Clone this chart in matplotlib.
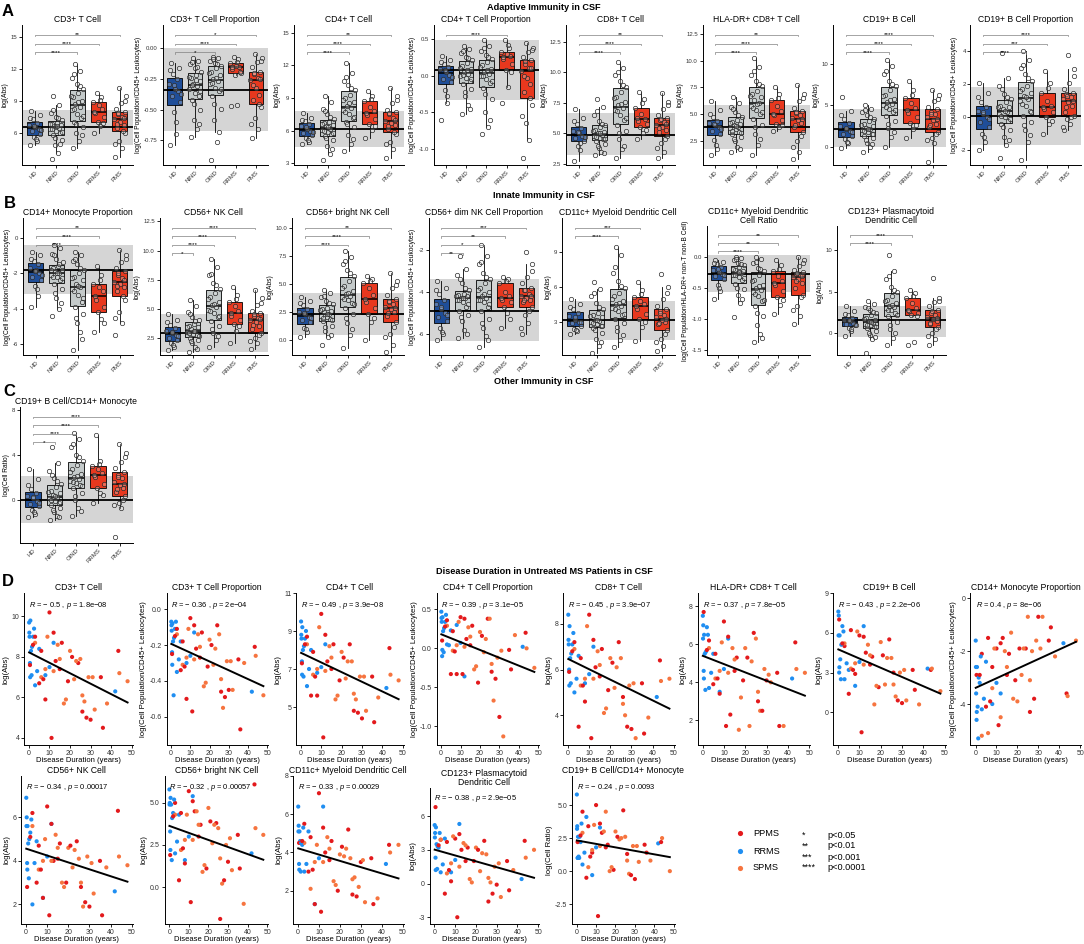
import numpy as np
import matplotlib
matplotlib.use("Agg")
import matplotlib.pyplot as plt
from matplotlib.transforms import blended_transform_factory

plt.rcParams['font.family'] = ['Liberation Sans', 'DejaVu Sans']
plt.rcParams['mathtext.fontset'] = 'custom'
plt.rcParams['mathtext.rm'] = 'Liberation Sans'
plt.rcParams['mathtext.it'] = 'Liberation Sans:italic'

# ---------------- box plot panels (A, B, C) ----------------
groups = ['HD', 'NIND', 'OIND', 'RRMS', 'PMS']
box_colors = ['#1f4e99', '#c4caca', '#c4caca', '#e8381e', '#e8381e']

cd3_abs = [[4.9, 5.3, 5.7, 5.9, 6.2, 6.4, 6.6, 6.8, 7.0, 7.3, 7.7, 8.1, 5.5, 6.3, 6.7, 7.4],
           [3.6, 4.2, 4.9, 5.4, 5.8, 6.0, 6.2, 6.4, 6.5, 6.7, 6.8, 6.9, 7.0, 7.2, 7.5, 7.9, 8.6, 9.5,
            5.0, 5.6, 6.1, 6.4, 6.7, 6.9, 7.4, 8.2],
           [4.6, 5.3, 6.0, 6.6, 7.1, 7.4, 7.8, 8.2, 8.5, 8.7, 9.0, 9.4, 9.8, 10.1, 10.6, 11.2, 11.8, 12.5,
            5.8, 6.9, 7.6, 8.3, 8.9, 9.5, 10.4, 11.5],
           [6.0, 6.7, 7.1, 7.5, 7.9, 8.3, 8.6, 8.9, 9.4, 9.8, 7.0, 8.0, 9.1],
           [3.8, 4.6, 5.3, 6.0, 6.5, 6.8, 7.1, 7.3, 7.5, 7.8, 8.0, 8.3, 8.8, 9.5, 10.2, 5.0, 6.2, 6.9, 7.4, 7.9, 9.0]]
cd3_prop = [[-0.79, -0.70, -0.52, -0.44, -0.39, -0.35, -0.33, -0.29, -0.25, -0.21, -0.16, -0.12, -0.60, -0.37, -0.30, -0.18],
            [-0.72, -0.66, -0.58, -0.50, -0.42, -0.39, -0.36, -0.33, -0.31, -0.29, -0.27, -0.24, -0.22, -0.19, -0.16, -0.13, -0.10, -0.08,
             -0.62, -0.45, -0.35, -0.30, -0.26, -0.23, -0.15, -0.11],
            [-0.91, -0.76, -0.58, -0.49, -0.39, -0.35, -0.32, -0.29, -0.27, -0.25, -0.22, -0.19, -0.16, -0.14, -0.12, -0.10, -0.08, -0.07,
             -0.68, -0.45, -0.33, -0.28, -0.24, -0.20, -0.13, -0.09],
            [-0.47, -0.46, -0.22, -0.20, -0.17, -0.15, -0.14, -0.12, -0.09, -0.07, -0.19, -0.15, -0.11],
            [-0.73, -0.66, -0.57, -0.48, -0.42, -0.38, -0.32, -0.26, -0.24, -0.21, -0.19, -0.15, -0.11, -0.08, -0.05,
             -0.62, -0.45, -0.30, -0.25, -0.20, -0.10]]
cd4_abs = [[4.8, 5.0, 5.3, 5.6, 5.8, 6.0, 6.2, 6.4, 6.6, 6.9, 7.2, 7.6, 5.1, 5.9, 6.3, 7.0],
           [3.3, 3.9, 4.6, 5.1, 5.5, 5.7, 5.9, 6.1, 6.2, 6.4, 6.5, 6.7, 6.8, 7.1, 7.5, 8.0, 8.6, 9.2,
            4.3, 5.3, 5.8, 6.0, 6.3, 6.6, 7.3, 7.8],
           [4.1, 4.8, 5.6, 6.3, 6.8, 7.2, 7.5, 7.9, 8.1, 8.3, 8.6, 9.0, 9.3, 9.7, 10.2, 10.6, 11.3, 12.2,
            5.2, 6.6, 7.3, 7.7, 8.5, 8.8, 9.9, 10.9],
           [5.3, 6.1, 6.6, 7.1, 7.4, 7.8, 8.2, 8.7, 9.2, 9.6, 6.4, 7.6, 8.9],
           [3.5, 4.3, 5.0, 5.7, 6.2, 6.5, 6.7, 6.9, 7.2, 7.5, 7.7, 7.9, 8.5, 9.2, 9.9, 4.8, 5.9, 6.4, 7.0, 7.6, 8.8]]
cd4_prop = [[-0.61, -0.38, -0.20, -0.09, -0.04, 0.01, 0.05, 0.09, 0.12, 0.16, 0.21, 0.27, -0.28, -0.02, 0.07, 0.19],
            [-0.52, -0.40, -0.28, -0.18, -0.11, -0.07, -0.03, 0.0, 0.02, 0.05, 0.09, 0.13, 0.17, 0.21, 0.26, 0.31, 0.36, 0.40,
             -0.45, -0.22, -0.05, 0.01, 0.07, 0.11, 0.24, 0.33],
            [-0.80, -0.70, -0.50, -0.32, -0.17, -0.10, -0.05, 0.0, 0.02, 0.05, 0.09, 0.14, 0.18, 0.23, 0.28, 0.34, 0.41, 0.48,
             -0.60, -0.25, -0.08, 0.0, 0.07, 0.12, 0.26, 0.38],
            [-0.37, -0.15, 0.08, 0.16, 0.22, 0.27, 0.29, 0.32, 0.38, 0.48, 0.05, 0.25, 0.42],
            [-1.13, -0.88, -0.65, -0.40, -0.23, -0.12, -0.03, 0.06, 0.11, 0.16, 0.21, 0.26, 0.32, 0.38, 0.44,
             -0.55, -0.30, 0.0, 0.10, 0.20, 0.35]]
cd8_abs = [[2.7, 3.6, 4.0, 4.4, 4.6, 4.8, 5.0, 5.2, 5.4, 5.8, 6.3, 7.0, 4.2, 4.7, 5.1, 6.0],
           [3.2, 3.5, 3.8, 4.1, 4.4, 4.5, 4.6, 4.8, 4.9, 5.0, 5.1, 5.3, 5.5, 5.7, 6.0, 6.5, 7.2, 7.8,
            3.4, 4.0, 4.5, 4.7, 5.0, 5.2, 5.8, 6.8],
           [3.0, 3.7, 4.5, 5.2, 5.7, 6.1, 6.5, 6.9, 7.1, 7.3, 7.6, 8.0, 8.4, 8.8, 9.3, 9.8, 10.4, 10.9,
            4.0, 5.0, 6.3, 6.8, 7.4, 7.9, 9.0, 10.0],
           [4.5, 5.0, 5.5, 5.8, 6.0, 6.2, 6.6, 7.1, 7.8, 8.4, 5.3, 6.3, 7.5],
           [3.0, 3.5, 4.2, 4.8, 5.1, 5.3, 5.5, 5.7, 5.9, 6.1, 6.3, 6.5, 7.0, 7.6, 8.3, 3.8, 4.5, 5.4, 5.8, 6.2, 7.3]]
hladr_cd8_abs = [[1.2, 1.8, 2.6, 3.2, 3.5, 3.8, 4.0, 4.2, 4.4, 4.8, 5.4, 6.2, 2.2, 3.6, 4.1, 5.0],
                 [1.5, 2.0, 2.5, 2.9, 3.2, 3.4, 3.6, 3.7, 3.8, 4.0, 4.1, 4.3, 4.5, 4.8, 5.2, 5.7, 6.1, 6.6,
                  1.8, 2.7, 3.3, 3.5, 3.9, 4.2, 4.9, 5.5],
                 [1.2, 2.2, 3.2, 4.0, 4.6, 5.0, 5.4, 5.8, 6.1, 6.3, 6.6, 6.9, 7.2, 7.6, 8.1, 8.7, 9.4, 10.2,
                  2.7, 3.8, 5.2, 5.6, 6.0, 6.7, 7.8, 9.0],
                 [3.5, 3.8, 4.1, 4.5, 4.9, 5.3, 5.8, 6.3, 6.9, 7.5, 4.0, 5.0, 6.5],
                 [0.9, 1.5, 2.5, 3.4, 3.8, 4.2, 4.5, 4.7, 4.9, 5.1, 5.3, 5.6, 6.2, 6.9, 7.7, 2.0, 3.0, 4.0, 4.6, 5.2, 6.5]]
cd19_abs = [[-0.1, 0.4, 0.9, 1.3, 1.6, 1.9, 2.1, 2.5, 2.9, 3.4, 4.3, 6.0, 0.6, 1.8, 2.3, 3.8],
            [-0.6, 0.0, 0.5, 1.0, 1.3, 1.6, 1.8, 2.0, 2.1, 2.3, 2.5, 2.8, 3.1, 3.4, 3.8, 4.2, 4.6, 5.0,
             0.3, 0.8, 1.5, 1.9, 2.2, 2.6, 3.6, 4.4],
            [0.0, 1.2, 2.3, 3.1, 3.7, 4.2, 4.6, 5.0, 5.2, 5.4, 5.8, 6.3, 6.8, 7.3, 8.0, 8.8, 9.7, 10.5,
             1.8, 2.8, 4.4, 4.8, 5.6, 6.1, 7.6, 9.2],
            [1.0, 2.2, 2.9, 3.6, 4.1, 4.7, 5.3, 5.9, 6.8, 7.9, 2.6, 4.4, 6.3],
            [-1.8, 0.5, 1.1, 1.8, 2.4, 2.8, 3.2, 3.6, 3.9, 4.2, 4.5, 4.8, 5.5, 6.2, 6.9, 0.8, 1.5, 2.6, 3.4, 4.0, 5.8]]
cd19_prop = [[-2.0, -1.5, -1.0, -0.6, -0.3, 0.0, 0.2, 0.4, 0.6, 0.9, 1.5, 2.1, -1.2, -0.1, 0.3, 1.2],
             [-2.5, -1.7, -1.2, -0.8, -0.4, -0.2, 0.0, 0.2, 0.3, 0.5, 0.6, 0.7, 0.9, 1.1, 1.4, 1.9, 2.4, 3.9,
              -1.4, -0.6, -0.1, 0.1, 0.4, 0.6, 1.2, 1.7],
             [-2.6, -1.5, -0.8, -0.3, 0.1, 0.4, 0.7, 1.0, 1.1, 1.3, 1.5, 1.7, 1.9, 2.2, 2.6, 3.0, 3.5, 4.0,
              -1.1, -0.5, 0.3, 0.8, 1.2, 1.6, 2.4, 3.2],
             [-1.0, -0.4, 0.0, 0.3, 0.5, 0.7, 1.0, 1.5, 2.1, 2.8, -0.2, 0.6, 1.8],
             [-0.8, -0.4, -0.1, 0.1, 0.3, 0.7, 0.9, 1.1, 1.2, 1.4, 1.5, 1.7, 2.1, 2.9, 3.8, -0.6, 0.0, 0.6, 1.0, 1.3, 2.5]]
cd14_prop = [[-3.9, -3.3, -2.7, -2.4, -2.2, -2.0, -1.8, -1.7, -1.5, -1.3, -1.0, -0.8, -2.9, -2.1, -1.9, -1.2],
             [-4.4, -4.0, -3.4, -2.9, -2.6, -2.4, -2.2, -2.1, -2.0, -1.9, -1.8, -1.7, -1.6, -1.4, -1.2, -0.9, -0.6, -0.4,
              -3.7, -3.1, -2.3, -2.2, -2.0, -1.8, -1.5, -1.0],
             [-6.3, -5.3, -4.8, -4.3, -3.9, -3.6, -3.2, -2.9, -2.8, -2.6, -2.4, -2.2, -2.0, -1.8, -1.5, -1.3, -1.0, -0.8,
              -5.7, -4.5, -3.4, -3.0, -2.7, -2.3, -1.7, -1.2],
             [-5.3, -4.6, -4.2, -3.9, -3.5, -3.0, -2.8, -2.6, -2.1, -1.6, -4.8, -3.3, -2.4],
             [-5.5, -4.8, -4.2, -3.5, -3.0, -2.8, -2.6, -2.5, -2.3, -2.1, -1.9, -1.7, -1.4, -1.0, -0.7,
              -4.5, -3.3, -2.7, -2.4, -2.0, -1.2]]
cd56_abs = [[1.4, 1.7, 2.0, 2.3, 2.5, 2.7, 2.9, 3.1, 3.3, 3.6, 4.0, 4.5, 1.9, 2.6, 3.0, 3.8],
            [1.3, 1.7, 2.0, 2.3, 2.5, 2.7, 2.8, 3.0, 3.1, 3.2, 3.4, 3.5, 3.7, 4.0, 4.3, 4.7, 5.2, 5.7,
             1.5, 2.2, 2.6, 2.9, 3.1, 3.4, 3.9, 4.5],
            [1.7, 2.3, 2.9, 3.5, 3.9, 4.3, 4.6, 4.9, 5.1, 5.3, 5.6, 6.0, 6.3, 6.7, 7.2, 7.9, 8.6, 9.3,
             2.6, 3.2, 4.4, 4.8, 5.4, 5.8, 7.0, 8.0],
            [2.0, 3.1, 3.7, 4.0, 4.4, 4.8, 5.2, 5.6, 6.2, 6.9, 3.5, 4.6, 5.8],
            [1.5, 2.0, 2.5, 2.9, 3.2, 3.5, 3.8, 4.0, 4.2, 4.4, 4.6, 4.8, 5.3, 5.9, 6.6, 2.2, 2.7, 3.6, 4.1, 4.5, 5.5]]
cd56_bright_abs = [[0.3, 0.7, 1.1, 1.6, 1.8, 2.1, 2.3, 2.5, 2.8, 3.1, 3.5, 3.8, 1.0, 2.0, 2.4, 3.3],
                   [-0.4, 0.3, 0.8, 1.3, 1.7, 1.9, 2.1, 2.2, 2.3, 2.5, 2.6, 2.8, 2.9, 3.2, 3.5, 3.8, 4.2, 4.5,
                    0.5, 1.2, 1.8, 2.0, 2.3, 2.7, 3.3, 3.9],
                   [-0.7, 0.5, 1.5, 2.3, 2.9, 3.3, 3.6, 3.8, 3.9, 4.1, 4.4, 4.8, 5.3, 5.7, 6.2, 6.8, 7.4, 7.9,
                    1.0, 2.0, 3.2, 3.7, 4.2, 4.6, 6.0, 7.0],
                   [0.0, 1.6, 2.3, 2.9, 3.4, 4.0, 4.6, 5.1, 5.4, 5.7, 2.0, 3.7, 5.3],
                   [-1.0, -0.4, 0.6, 1.6, 2.2, 2.5, 2.8, 3.0, 3.2, 3.4, 3.7, 4.0, 4.6, 5.3, 6.0, 0.3, 1.2, 2.4, 2.9, 3.5, 4.9]]
cd56_dim_prop = [[-6.3, -6.0, -5.7, -5.4, -5.2, -5.0, -4.8, -4.6, -4.4, -4.1, -3.8, -3.5, -5.9, -5.1, -4.7, -3.9],
                 [-6.2, -5.8, -5.4, -5.1, -4.9, -4.7, -4.5, -4.4, -4.3, -4.3, -4.2, -4.15, -4.1, -3.9, -3.6, -3.2, -2.9, -2.3,
                  -6.0, -5.2, -4.6, -4.4, -4.3, -4.2, -3.8, -3.4],
                 [-6.6, -6.1, -5.7, -5.3, -4.9, -4.7, -4.5, -4.4, -4.3, -4.2, -4.0, -3.8, -3.6, -3.4, -3.1, -2.7, -2.3, -1.8,
                  -6.3, -5.5, -4.6, -4.4, -4.1, -3.9, -3.3, -2.6],
                 [-5.7, -5.0, -4.7, -4.5, -4.4, -4.2, -4.0, -3.6, -3.4, -3.3, -5.3, -4.3, -3.5],
                 [-6.0, -5.5, -5.1, -4.7, -4.5, -4.4, -4.3, -4.2, -4.1, -3.9, -3.8, -3.6, -3.3, -2.7, -2.1,
                  -5.7, -4.9, -4.4, -4.2, -3.9, -3.0]]
cd11c_abs = [[2.0, 2.2, 2.4, 2.7, 2.9, 3.0, 3.2, 3.5, 3.8, 4.1, 4.5, 5.0, 2.3, 3.0, 3.4, 4.3],
             [0.4, 1.0, 1.6, 2.1, 2.5, 2.7, 2.8, 3.0, 3.1, 3.2, 3.4, 3.6, 3.8, 4.1, 4.6, 5.2, 5.8, 6.4,
              1.3, 2.3, 2.7, 2.9, 3.2, 3.5, 4.3, 5.5],
             [0.9, 1.5, 2.2, 2.9, 3.3, 3.6, 3.9, 4.2, 4.4, 4.5, 4.8, 5.2, 5.5, 5.9, 6.5, 7.2, 8.7, 9.4,
              1.9, 2.6, 3.7, 4.1, 4.6, 5.0, 6.1, 7.7],
             [1.4, 2.6, 3.3, 3.7, 4.1, 4.5, 4.8, 5.1, 5.7, 6.4, 3.0, 4.4, 5.4],
             [0.5, 1.0, 1.6, 2.3, 2.8, 3.0, 3.2, 3.4, 3.6, 3.9, 4.1, 4.4, 5.0, 6.0, 7.1, 1.3, 2.0, 2.9, 3.3, 3.8, 5.5]]
cd11c_ratio = [[-0.68, -0.55, -0.45, -0.36, -0.32, -0.28, -0.25, -0.21, -0.16, -0.12, -0.08, -0.05, -0.50, -0.30, -0.20, -0.10],
               [-0.97, -0.75, -0.62, -0.52, -0.44, -0.38, -0.33, -0.29, -0.27, -0.26, -0.24, -0.21, -0.17, -0.14, -0.10, -0.06, -0.02, 0.0,
                -0.68, -0.50, -0.35, -0.30, -0.25, -0.20, -0.12, -0.04],
               [-1.37, -1.25, -1.10, -0.95, -0.80, -0.72, -0.64, -0.57, -0.53, -0.50, -0.45, -0.38, -0.30, -0.24, -0.18, -0.10, -0.04, 0.0,
                -1.30, -0.90, -0.70, -0.60, -0.48, -0.40, -0.20, -0.08],
               [-0.92, -0.78, -0.65, -0.55, -0.46, -0.40, -0.31, -0.24, -0.14, -0.05, -0.70, -0.43, -0.20],
               [-1.08, -0.95, -0.80, -0.62, -0.50, -0.42, -0.36, -0.33, -0.30, -0.28, -0.25, -0.22, -0.15, -0.06, 0.0,
                -0.85, -0.65, -0.40, -0.32, -0.26, -0.10]]
cd123_abs = [[-0.4, 0.2, 0.6, 0.9, 1.1, 1.2, 1.4, 1.6, 1.8, 2.1, 2.6, 3.3, 0.4, 1.0, 1.5, 2.3],
             [-2.4, -0.8, -0.3, 0.2, 0.6, 0.8, 1.0, 1.1, 1.2, 1.4, 1.6, 1.8, 2.1, 2.4, 2.7, 3.1, 3.5, 3.8,
              -0.5, 0.0, 0.7, 1.0, 1.3, 1.7, 2.5, 3.0],
             [-1.5, -0.6, 0.5, 1.3, 2.0, 2.4, 2.7, 3.0, 3.1, 3.3, 3.6, 4.0, 4.4, 4.9, 5.6, 6.5, 7.5, 9.4,
              0.0, 1.0, 2.2, 2.8, 3.4, 3.8, 5.2, 6.9],
             [-1.5, -1.1, 2.2, 2.4, 2.6, 3.0, 3.6, 4.2, 4.8, 5.2, 2.0, 2.8, 4.5],
             [-1.5, -0.8, 0.0, 0.7, 1.1, 1.4, 1.7, 1.9, 2.1, 2.4, 2.8, 3.2, 3.7, 4.2, 6.7, -0.4, 0.4, 1.2, 1.8, 2.6, 3.9]]
cd19_cd14_ratio = [[-1.6, -1.3, -0.9, -0.6, -0.4, -0.1, 0.1, 0.3, 0.6, 0.9, 1.8, 2.7, -1.1, -0.3, 0.2, 1.3],
                   [-1.8, -1.5, -1.1, -0.8, -0.5, -0.3, -0.1, 0.1, 0.2, 0.4, 0.6, 0.8, 1.1, 1.4, 1.9, 2.6, 3.3, 4.7,
                    -1.6, -0.9, -0.2, 0.0, 0.3, 0.7, 1.7, 2.2],
                   [-1.5, -0.8, 0.0, 0.6, 1.0, 1.3, 1.5, 1.7, 1.8, 2.0, 2.3, 2.7, 3.1, 3.5, 4.0, 4.7, 5.4, 6.0,
                    -1.0, 0.3, 1.2, 1.6, 2.1, 2.5, 3.8, 5.0],
                   [-0.3, 0.6, 1.0, 1.4, 2.0, 2.4, 2.7, 3.0, 3.5, 5.8, 0.4, 2.2, 3.2],
                   [-3.4, -0.8, -0.3, 0.3, 0.7, 1.0, 1.3, 1.6, 1.9, 2.2, 2.5, 2.8, 3.4, 4.2, 5.0, -0.5, 0.0, 0.9, 1.4, 2.0, 3.8]]

box_values = [cd3_abs, cd3_prop, cd4_abs, cd4_prop, cd8_abs, hladr_cd8_abs, cd19_abs, cd19_prop,
              cd14_prop, cd56_abs, cd56_bright_abs, cd56_dim_prop, cd11c_abs, cd11c_ratio, cd123_abs,
              cd19_cd14_ratio]
box_titles = ["CD3+ T Cell", "CD3+ T Cell Proportion", "CD4+ T Cell", "CD4+ T Cell Proportion",
              "CD8+ T Cell", "HLA-DR+ CD8+ T Cell", "CD19+ B Cell", "CD19+ B Cell Proportion",
              "CD14+ Monocyte Proportion", "CD56+ NK Cell", "CD56+ bright NK Cell",
              "CD56+ dim NK Cell Proportion", "CD11c+ Myeloid Dendritic Cell",
              "CD11c+ Myeloid Dendritic\nCell Ratio", "CD123+ Plasmacytoid\nDendritic Cell",
              "CD19+ B Cell/CD14+ Monocyte"]
prop = "log(Cell Population/CD45+ Leukocytes)"
box_ylabels = ["log(Abs)", prop, "log(Abs)", prop, "log(Abs)", "log(Abs)", "log(Abs)", prop,
               prop, "log(Abs)", "log(Abs)", prop, "log(Abs)",
               "log(Cell Population/HLA-DR+ non-T non-B Cell)", "log(Abs)", "log(Cell Ratio)"]
# HD reference line and band
box_ref = [6.6, -0.34, 6.2, 0.08, 4.9, 3.85, 2.2, 0.05, -1.85, 2.9, 2.3, -4.9, 3.15, -0.28, 1.5, 0.0]
box_band = [(4.9, 8.2), (-0.675, 0.0), (4.5, 7.85), (-0.33, 0.49), (3.2, 6.7), (1.8, 5.9),
            (-0.05, 4.6), (-1.7, 1.85), (-3.15, -0.4), (1.3, 4.55), (0.5, 4.2), (-6.35, -3.4),
            (1.5, 4.75), (-0.57, 0.03), (-0.5, 3.2), (-2.1, 2.15)]
box_sig = [[('OIND', '****'), ('RRMS', '****'), ('PMS', '**')],
           [('OIND', '*'), ('RRMS', '****'), ('PMS', '*')],
           [('OIND', '****'), ('RRMS', '****'), ('PMS', '**')],
           [('RRMS', '****')],
           [('OIND', '****'), ('RRMS', '****'), ('PMS', '**')],
           [('OIND', '****'), ('RRMS', '****'), ('PMS', '**')],
           [('OIND', '****'), ('RRMS', '****'), ('PMS', '****')],
           [('OIND', '****'), ('RRMS', '***'), ('PMS', '****')],
           [('OIND', '****'), ('RRMS', '****'), ('PMS', '**')],
           [('NIND', '*'), ('OIND', '****'), ('RRMS', '****'), ('PMS', '****')],
           [('OIND', '****'), ('RRMS', '****'), ('PMS', '**')],
           [('NIND', '**'), ('OIND', '*'), ('RRMS', '**'), ('PMS', '***')],
           [('OIND', '****'), ('RRMS', '***')],
           [('OIND', '****'), ('RRMS', '**'), ('PMS', '**')],
           [('OIND', '****'), ('RRMS', '****')],
           [('NIND', '*'), ('OIND', '****'), ('RRMS', '****'), ('PMS', '****')]]
box_ylim = [(3.05, 16.1), (-0.95, 0.19), (2.85, 15.7), (-1.22, 0.69), (2.4, 13.9), (0.3, 13.3),
            (-2.2, 14.7), (-2.9, 5.6), (-6.6, 1.1), (1.0, 12.8), (-1.3, 10.85), (-7.0, -0.5),
            (0.2, 11.85), (-1.58, 0.49), (-2.7, 12.95), (-3.9, 8.3)]
box_yticks = [["6", "9", "12", "15"], ["-0.75", "-0.50", "-0.25", "0.00"], ["3", "6", "9", "12", "15"],
              ["-1.0", "-0.5", "0.0", "0.5"], ["2.5", "5.0", "7.5", "10.0", "12.5"],
              ["2.5", "5.0", "7.5", "10.0", "12.5"], ["0", "5", "10"], ["-2", "0", "2", "4"],
              ["-6", "-4", "-2", "0"], ["2.5", "5.0", "7.5", "10.0", "12.5"],
              ["0.0", "2.5", "5.0", "7.5", "10.0"], ["-6", "-4", "-2"], ["3", "6", "9"],
              ["-1.5", "-1.0", "-0.5", "0.0"], ["0", "5", "10"], ["0", "4", "8"]]
box_lpad = [22, 27, 23, 27, 24, 25, 20, 22, 23, 24, 21, 22, 20, 29, 24, 20]

# ---------------- scatter panels (D) ----------------
duration = [0.1, 0.3, 0.5, 0.7, 1.0, 1.3, 2.0, 3.0, 5.0, 8.0, 12.0, 42.0,
            0.5, 3, 5, 6, 8, 10, 11, 13, 16, 19, 24, 26, 30, 36, 43.5,
            3, 6, 9, 12, 15, 17, 20, 22, 25, 27, 29, 32, 38, 48,
            0.2, 0.6, 1.5, 2.5, 4, 10,
            2, 7, 12, 15, 21, 28, 35,
            8, 14, 18, 23, 26, 31, 44]
ms_type = "RRRRRRRRRRRRPPPPPPPPPPPPPPPSSSSSSSSSSSSSSRRRRRRPPPPPPPSSSSSSS"
type_colors = {'P': '#e3191c', 'R': '#1f8ef1', 'S': '#f6743f'}

d_cd3_abs = [9.7, 9.0, 7.7, 9.8, 8.3, 7.1, 9.0, 6.6, 8.4, 7.1, 8.7, 6.3,
             7.6, 9.0, 6.7, 8.3, 5.9, 10.2, 4.0, 7.8, 8.7, 6.8, 7.7, 5.3, 4.9, 4.5, 8.3,
             8.7, 7.0, 9.0, 7.3, 7.9, 5.7, 8.3, 6.9, 7.9, 5.8, 7.0, 5.4, 5.7, 6.8,
             9.2, 7.0, 8.5, 9.4, 7.3, 7.5, 8.6, 6.9, 9.2, 7.4, 8.0, 5.0, 7.0, 7.4, 8.6, 5.9, 7.8, 6.1, 7.0, 7.2]
d_cd3_prop = [-0.07, -0.12, -0.24, -0.08, -0.18, -0.48, -0.11, -0.35, -0.18, -0.30, -0.13, -0.46,
              -0.25, -0.11, -0.34, -0.18, -0.50, -0.05, -0.57, -0.22, -0.13, -0.32, -0.09, -0.46, -0.45, -0.67, -0.21,
              -0.14, -0.31, -0.11, -0.28, -0.21, -0.43, -0.17, -0.31, -0.14, -0.55, -0.29, -0.45, -0.30, -0.48,
              -0.09, -0.31, -0.16, -0.07, -0.28, -0.26, -0.15, -0.32, -0.09, -0.27, -0.20, -0.49, -0.28,
              -0.27, -0.14, -0.41, -0.22, -0.39, -0.29, -0.26]
d_cd4_abs = [9.5, 8.6, 7.4, 9.2, 8.0, 6.6, 8.6, 6.1, 8.0, 6.8, 8.3, 6.0,
             7.3, 8.7, 5.6, 7.9, 5.6, 9.9, 3.4, 7.4, 8.3, 6.4, 8.3, 4.8, 4.4, 4.2, 8.1,
             8.3, 6.7, 9.2, 6.9, 7.6, 5.4, 7.9, 6.5, 7.4, 5.4, 6.6, 4.8, 5.5, 6.4,
             8.8, 6.7, 8.2, 9.0, 7.0, 7.1, 8.3, 6.6, 8.8, 7.0, 7.6, 4.7, 6.6, 7.0, 8.2, 5.6, 7.4, 5.7, 6.6, 6.7]
d_cd4_prop = [0.47, 0.34, -0.10, 0.40, 0.22, -0.05, 0.34, 0.05, 0.23, 0.30, -0.36, 0.02,
              0.10, 0.36, -0.33, 0.22, -0.33, 0.40, -0.33, 0.12, 0.29, -0.44, 0.38, -0.30, -0.88, -0.27, 0.20,
              0.29, -0.03, 0.34, 0.02, 0.15, -0.27, 0.21, -0.05, 0.38, -0.67, -0.12, -1.13, 0.17, -0.25,
              0.39, -0.02, 0.26, 0.43, 0.04, 0.07, 0.28, -0.04, 0.38, 0.04, 0.16, -0.39, -0.02,
              0.04, 0.27, -0.23, 0.12, -0.20, -0.03, 0.0]
d_cd8_abs = [8.4, 7.1, 6.0, 7.9, 6.5, 5.4, 7.1, 5.0, 6.6, 5.4, 7.0, 4.8,
             5.9, 7.2, 3.5, 6.5, 4.6, 8.4, 3.0, 6.1, 6.9, 5.1, 7.2, 4.8, 3.4, 3.2, 6.4,
             6.9, 5.3, 7.9, 5.6, 6.2, 4.1, 6.5, 5.2, 6.5, 4.0, 5.3, 3.0, 3.9, 5.6,
             7.3, 5.3, 6.7, 7.6, 5.6, 5.8, 6.8, 5.3, 7.3, 5.7, 6.3, 3.5, 5.4, 5.6, 6.8, 4.3, 6.1, 4.5, 5.4, 5.5]
d_hladr_cd8_abs = [7.5, 7.0, 4.6, 6.5, 5.5, 3.6, 6.9, 3.7, 5.5, 3.5, 6.3, 4.2,
                   7.7, 6.2, 3.9, 5.5, 3.4, 7.2, 1.7, 2.3, 5.3, 4.1, 6.6, 3.0, 4.1, 1.7, 6.1,
                   5.8, 4.2, 6.1, 4.5, 5.2, 1.5, 5.8, 1.7, 6.3, 2.5, 4.7, 4.0, 1.7, 4.5,
                   6.3, 4.2, 5.6, 6.5, 4.5, 4.7, 5.7, 4.2, 6.4, 4.6, 5.3, 2.5, 4.5, 4.6, 5.8, 3.2, 5.1, 3.5, 4.4, 4.7]
d_cd19_abs = [7.6, 7.3, 3.0, 5.8, 4.0, 2.5, 6.5, 2.5, 3.2, 2.0, 6.5, 3.3,
              7.0, 5.0, 1.4, 6.2, 2.9, 5.8, -1.5, 4.5, 4.2, 1.9, 5.5, 3.0, 0.7, 1.7, 3.2,
              5.2, 3.3, 6.1, 3.6, 4.3, 0.6, 5.3, 2.1, 4.1, 1.2, 3.0, 0.9, 0.6, 1.6,
              5.8, 3.4, 5.1, 6.1, 3.7, 3.8, 5.2, 3.2, 5.7, 3.6, 4.3, 0.9, 3.2, 3.7, 5.1, 2.0, 4.1, 2.1, 3.2, 3.3]
d_cd14_prop = [-1.6, -3.6, -4.6, -2.6, -4.1, -5.3, -3.2, -4.2, -2.4, -4.0, -3.6, -1.7,
               -2.9, -2.1, -4.1, -1.5, -2.6, -1.9, -4.8, -1.5, -2.1, -3.1, -1.9, -4.3, -0.7, -1.1, -3.6,
               -5.2, -5.1, -1.9, -4.5, -2.6, -1.3, -3.9, -2.9, -0.7, -2.0, -1.6, -0.7, -2.2, -1.6,
               -2.6, -4.3, -3.0, -2.2, -3.8, -3.2, -2.9, -3.9, -1.7, -2.9, -1.9, -3.8, -1.6,
               -3.4, -2.0, -3.8, -1.9, -3.1, -1.9, -3.7]
d_cd56_abs = [6.9, 6.0, 3.9, 5.6, 4.8, 3.2, 5.3, 2.0, 4.9, 2.3, 5.7, 2.6,
              2.8, 6.2, 3.0, 4.7, 2.3, 6.5, 1.5, 4.0, 4.8, 3.0, 4.9, 2.8, 1.9, 1.5, 6.3,
              5.6, 3.6, 5.0, 4.0, 4.6, 3.0, 4.6, 3.7, 4.1, 1.9, 4.2, 2.5, 3.7, 3.8,
              5.6, 3.6, 5.0, 5.9, 3.9, 4.2, 5.1, 3.6, 5.7, 4.1, 4.7, 2.1, 4.0, 4.0, 5.2, 2.8, 4.5, 3.0, 3.9, 4.2]
d_cd56_bright_abs = [5.8, 5.0, 3.3, 5.3, 4.9, 1.6, 4.4, 2.0, 4.3, 1.6, 5.4, 2.0,
                     1.9, 5.0, 0.4, 4.4, 1.4, 5.7, -0.9, 4.5, 3.7, 1.1, 3.8, -1.9, 1.5, 1.1, 6.1,
                     4.3, 2.2, 4.3, 2.8, 3.7, 0.9, 4.7, 2.6, 3.5, 0.2, 2.5, 1.0, -1.0, 3.1,
                     4.9, 2.2, 4.1, 5.2, 2.7, 3.0, 4.2, 2.3, 5.1, 3.0, 3.9, 0.4, 3.1, 2.8, 4.5, 1.3, 3.7, 1.7, 2.9, 3.5]
d_cd11c_abs = [6.4, 5.4, 3.4, 5.1, 4.6, 3.0, 4.4, 3.0, 5.1, 1.3, 6.4, 3.4,
               4.5, 5.5, 3.0, 4.8, 1.3, 7.1, 0.9, 4.0, 4.6, 2.0, 5.2, 1.8, 3.5, 1.3, 4.4,
               4.5, 2.1, 4.4, 3.5, 4.2, 2.5, 3.9, 3.8, 3.7, 2.7, 2.2, 1.4, 1.6, 4.4,
               5.1, 3.1, 4.5, 5.3, 3.4, 3.7, 4.6, 3.1, 5.3, 3.6, 4.3, 1.7, 3.7, 3.5, 4.8, 2.3, 4.2, 2.6, 3.6, 4.0]
d_cd123_abs = [5.2, 4.5, 2.3, 5.0, 3.5, 1.3, 3.2, 1.0, 4.0, 1.0, 5.3, 0.4,
               6.8, 3.9, -0.9, 3.7, 0.2, 4.0, -3.0, 3.0, 3.2, 2.0, 3.8, -1.6, -0.1, -0.6, 3.8,
               3.9, 0.9, 4.2, 1.5, 3.4, 0.4, 3.2, 1.1, 2.6, 0.1, 1.5, -1.2, 1.2, 3.0,
               4.1, 1.2, 3.3, 4.5, 1.7, 2.1, 3.4, 1.2, 4.4, 2.0, 3.0, -0.9, 2.0, 1.8, 3.6, 0.1, 2.7, 0.5, 1.8, 2.3]
d_cd19_cd14_ratio = [5.8, 3.4, 1.0, 2.6, 1.1, 1.0, 2.2, 0.5, 4.1, -0.3, 3.3, 2.1,
                     2.2, 4.5, -0.5, 3.4, 1.4, 5.0, -3.4, 2.9, 2.0, 0.1, 4.6, 1.3, -0.6, 1.4, 2.2,
                     2.9, 0.3, 3.5, 1.9, 4.5, 0.0, 3.0, 2.4, 2.6, -0.2, 1.9, 0.7, 0.8, 0.0,
                     3.2, 1.0, 2.6, 3.6, 1.4, 1.8, 2.7, 1.1, 3.6, 1.8, 2.6, -0.3, 2.0, 1.6, 3.0, 0.3, 2.5, 0.8, 1.9, 2.5]

scatter_values = [d_cd3_abs, d_cd3_prop, d_cd4_abs, d_cd4_prop, d_cd8_abs, d_hladr_cd8_abs,
                  d_cd19_abs, d_cd14_prop, d_cd56_abs, d_cd56_bright_abs, d_cd11c_abs,
                  d_cd123_abs, d_cd19_cd14_ratio]
scatter_titles = ["CD3+ T Cell", "CD3+ T Cell Proportion", "CD4+ T Cell", "CD4+ T Cell Proportion",
                  "CD8+ T Cell", "HLA-DR+ CD8+ T Cell", "CD19+ B Cell", "CD14+ Monocyte Proportion",
                  "CD56+ NK Cell", "CD56+ bright NK Cell", "CD11c+ Myeloid Dendritic Cell",
                  "CD123+ Plasmacytoid\nDendritic Cell", "CD19+ B Cell/CD14+ Monocyte"]
scatter_ylabels = ["log(Abs)", prop, "log(Abs)", prop, "log(Abs)", "log(Abs)", "log(Abs)", prop,
                   "log(Abs)", "log(Abs)", "log(Abs)", "log(Abs)", "log(Cell Ratio)"]
scatter_stats = [r"$R$ = − 0.5 , $p$ = 1.8e−08", r"$R$ = − 0.36 , $p$ = 2e−04",
                 r"$R$ = − 0.49 , $p$ = 3.9e−08", r"$R$ = − 0.39 , $p$ = 3.1e−05",
                 r"$R$ = − 0.45 , $p$ = 3.9e−07", r"$R$ = − 0.37 , $p$ = 7.8e−05",
                 r"$R$ = − 0.43 , $p$ = 2.2e−06", r"$R$ = 0.4 , $p$ = 8e−06",
                 r"$R$ = − 0.34 , $p$ = 0.00017", r"$R$ = − 0.32 , $p$ = 0.00057",
                 r"$R$ = − 0.33 , $p$ = 0.00029", r"$R$ = − 0.38 , $p$ = 2.9e−05",
                 r"$R$ = − 0.24 , $p$ = 0.0093"]
scatter_ylim = [(3.65, 11.16), (-0.757, 0.09), (3.0, 11.0), (-1.24, 0.71), (2.7, 9.35), (0.7, 8.7),
                (-2.46, 9.0), (-5.55, 0.2), (1.1, 7.9), (-2.2, 6.6), (0.26, 8.0), (-3.6, 8.5), (-4.0, 7.2)]
scatter_yticks = [["4", "6", "8", "10"], ["-0.6", "-0.4", "-0.2", "0.0"], ["5", "7", "9", "11"],
                  ["-1.0", "-0.5", "0.0", "0.5"], ["4", "6", "8"], ["2", "4", "6", "8"],
                  ["0", "3", "6", "9"], ["-4", "-2", "0"], ["2", "4", "6"], ["0.0", "2.5", "5.0"],
                  ["2", "4", "6", "8"], ["-3", "0", "3", "6"], ["-2.5", "0.0", "2.5", "5.0"]]
scatter_lpad = [24, 31, 25, 30, 21, 20, 20, 22, 21, 29, 22, 23, 30]

jitter = [-0.21, 0.09, -0.04, 0.26, -0.15, 0.18, 0.01, -0.27, 0.12, -0.09, 0.23, -0.19, 0.05,
          0.29, -0.02, -0.24, 0.15, -0.12, 0.20, -0.07, 0.27, -0.17, 0.03, -0.29, 0.11, -0.13]

W, H = 1084, 944
CW = W / 8
fig = plt.figure(figsize=(W / 100, H / 100), dpi=100)


def px_axes(left, top, right, bottom):
    return fig.add_axes([left / W, 1 - bottom / H, (right - left) / W, (bottom - top) / H])


def style(ax, fs):
    for s in ['top', 'right']:
        ax.spines[s].set_visible(False)
    for s in ['left', 'bottom']:
        ax.spines[s].set_linewidth(0.7)
    ax.tick_params(length=2.2, width=0.6, labelsize=fs, pad=1.2, labelcolor='#333333')


def draw_box_panel(ax, k):
    vals = box_values[k]
    lo, hi = box_ylim[k]
    rng = hi - lo
    ax.axhspan(*box_band[k], color='#d5d5d5', lw=0, zorder=0)
    bp = ax.boxplot(vals, positions=[1, 2, 3, 4, 5], widths=0.72, patch_artist=True,
                    showfliers=False, showcaps=False, whis=1.5,
                    medianprops=dict(color='black', lw=1.1),
                    whiskerprops=dict(color='black', lw=0.6),
                    boxprops=dict(edgecolor='black', lw=0.6), zorder=2)
    for patch, c in zip(bp['boxes'], box_colors):
        patch.set_facecolor(c)
    ax.axhline(box_ref[k], color='black', lw=1.3, zorder=3)
    for i, v in enumerate(vals):
        xs = [i + 1 + jitter[j % len(jitter)] for j in range(len(v))]
        ax.scatter(xs, v, s=10, facecolors=(1, 1, 1, 0.25), edgecolors='#2b2b2b',
                   linewidths=0.5, zorder=4)
    n = len(box_sig[k])
    for j, (g, stars) in enumerate(box_sig[k]):
        y = hi - (0.07 + 0.063 * (n - 1 - j)) * rng
        x2 = groups.index(g) + 1
        tip = 0.012 * rng
        ax.plot([1, 1, x2, x2], [y - tip, y, y, y - tip], color='#808080', lw=0.5, zorder=5)
        ax.text((1 + x2) / 2, y - 0.012 * rng, stars, ha='center', va='baseline', fontsize=4.6, zorder=5)
    ax.set_xlim(0.4, 5.6)
    ax.set_ylim(lo, hi)
    ticks = box_yticks[k]
    ax.set_yticks([float(t) for t in ticks], ticks)
    ax.set_xticks([1, 2, 3, 4, 5], groups, rotation=45, ha='right', rotation_mode='anchor')
    style(ax, 4.3)
    ax.set_ylabel(box_ylabels[k], fontsize=4.8, labelpad=1.5)
    ax.set_title(box_titles[k], fontsize=6.2, pad=2.5, linespacing=1.0)


def draw_scatter_panel(ax, k):
    x = np.array(duration)
    y = np.array(scatter_values[k])
    cols = [type_colors[t] for t in ms_type]
    ax.scatter(x, y, s=9, c=cols, lw=0, zorder=3)
    slope, icpt = np.polyfit(x, y, 1)
    xx = np.array([x.min(), x.max()])
    ax.plot(xx, icpt + slope * xx, color='black', lw=1.4, zorder=4)
    ax.set_xlim(-2.4, 50.4)
    ax.set_ylim(*scatter_ylim[k])
    ticks = scatter_yticks[k]
    ax.set_yticks([float(t) for t in ticks], ticks)
    ax.set_xticks([0, 10, 20, 30, 40, 50])
    style(ax, 5.0)
    ax.set_ylabel(scatter_ylabels[k], fontsize=5.6, labelpad=1.5)
    ax.set_xlabel("Disease Duration (years)", fontsize=5.5, labelpad=0.5)
    ax.set_title(scatter_titles[k], fontsize=6.2, pad=2.5, linespacing=1.0)
    tr = blended_transform_factory(ax.transData, ax.transAxes)
    ax.text(0, 0.92, scatter_stats[k], transform=tr, fontsize=5.4, va='center', ha='left')


box_rows = [(25, 165, range(0, 8)), (218, 355, range(8, 15)), (407, 543, range(15, 16))]
for top, bottom, idxs in box_rows:
    for col, k in enumerate(idxs):
        t = top + (8 if '\n' in box_titles[k] else 0)
        ax = px_axes(col * CW + box_lpad[k], t, (col + 1) * CW - 3, bottom)
        draw_box_panel(ax, k)

scatter_rows = [(593, 745, range(0, 8)), (776, 924, range(8, 13))]
for top, bottom, idxs in scatter_rows:
    for col, k in enumerate(idxs):
        t = top + (12 if '\n' in scatter_titles[k] else 0)
        ax = px_axes(col * CW + scatter_lpad[k], t, (col + 1) * CW - 3, bottom)
        draw_scatter_panel(ax, k)

# overlay for section titles, panel letters and legend (pixel coordinates)
ov = fig.add_axes([0, 0, 1, 1])
ov.set_xlim(0, W)
ov.set_ylim(H, 0)
ov.axis('off')
ov.patch.set_alpha(0)
for letter, lx, ly in [('A', 7.5, 11), ('B', 10, 203), ('C', 9, 392), ('D', 8, 581)]:
    ov.text(lx, ly, letter, fontsize=12, fontweight='bold', ha='center', va='center')
for label, ly in [("Adaptive Immunity in CSF", 7), ("Innate Immunity in CSF", 196),
                  ("Other Immunity in CSF", 382),
                  ("Disease Duration in Untreated MS Patients in CSF", 572)]:
    ov.text(544, ly, label, fontsize=6.6, fontweight='bold', ha='center', va='center')

legend_types = [('PPMS', 'P'), ('RRMS', 'R'), ('SPMS', 'S')]
for (name, t), ly in zip(legend_types, [833, 851, 868]):
    ov.scatter([740], [ly], s=14, color=type_colors[t], lw=0)
    ov.text(753, ly, name, fontsize=6.6, ha='left', va='center')
for stars, pv, ly in zip(['*', '**', '***', '****'], ['p<0.05', 'p<0.01', 'p<0.001', 'p<0.0001'],
                         [835, 846, 857, 867]):
    ov.text(802, ly, stars, fontsize=6.4, ha='left', va='center')
    ov.text(827, ly, pv, fontsize=6.6, ha='left', va='center')

fig.savefig("out.png", dpi=100)
